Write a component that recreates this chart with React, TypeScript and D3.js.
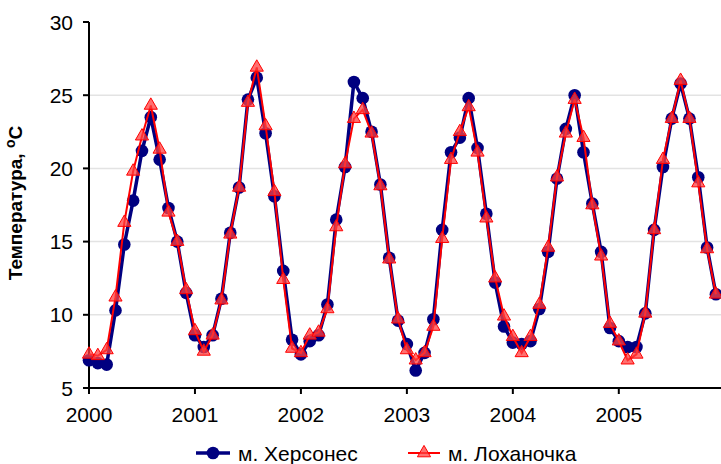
import React from 'react';
import * as d3 from 'd3';

// monthly means, Jan 2000 .. Dec 2005
const years = [2000, 2001, 2002, 2003, 2004, 2005];
const yTicks = [5, 10, 15, 20, 25, 30];

const khersones = [
  6.9, 6.7, 6.6, 10.3, 14.8, 17.8, 21.2, 23.5, 20.6, 17.3, 15.0, 11.5,
  8.6, 7.8, 8.6, 11.1, 15.6, 18.7, 24.7, 26.2, 22.4, 18.1, 13.0, 8.3,
  7.3, 8.2, 8.6, 10.7, 16.5, 20.1, 25.9, 24.8, 22.5, 18.9, 13.9, 9.6,
  8.0, 6.2, 7.4, 9.7, 15.8, 21.1, 22.1, 24.8, 21.4, 16.9, 12.2, 9.2,
  8.1, 8.0, 8.2, 10.4, 14.3, 19.3, 22.7, 25.0, 21.1, 17.6, 14.3, 9.1,
  8.2, 7.8, 7.8, 10.1, 15.8, 20.1, 23.4, 25.8, 23.4, 19.4, 14.6, 11.4,
];

const lokhanochka = [
  7.3, 7.2, 7.6, 11.2, 16.3, 19.8, 22.2, 24.3, 21.3, 17.0, 15.0, 11.7,
  8.9, 7.5, 8.6, 11.0, 15.5, 18.7, 24.5, 26.9, 22.9, 18.4, 12.4, 7.7,
  7.4, 8.6, 8.8, 10.4, 16.0, 20.3, 23.4, 24.0, 22.4, 18.8, 13.8, 9.7,
  7.6, 6.9, 7.4, 9.2, 15.2, 20.6, 22.5, 24.2, 21.1, 16.6, 12.5, 9.9,
  8.5, 7.4, 8.5, 10.7, 14.6, 19.4, 22.4, 24.7, 22.1, 17.5, 14.0, 9.4,
  8.2, 6.9, 7.3, 10.1, 15.8, 20.6, 23.4, 26.0, 23.4, 19.0, 14.5, 11.4,
];

const W = 721;
const H = 464;
const left = 89;
const top = 22;
const bottom = 388;
const font = 'Liberation Sans, Arial, sans-serif';
const fs = 21;

const BLUE = '#000080';
const RED = '#ff0000';

export default function App() {
  const x = d3.scaleLinear().domain([0, 72]).range([left, left + 72 * 8.83]);
  const y = d3.scaleLinear().domain([5, 30]).range([bottom, top]);

  const line = d3
    .line<number>()
    .x((d, i) => x(i))
    .y((d) => y(d));

  const tri = d3.symbol().type(d3.symbolTriangle).size(75)() as string;

  return (
    <div style={{ position: 'absolute', left: 0, top: 0 }}>
      <svg width={W} height={H} style={{ display: 'block', fontFamily: font }}>
        <rect width={W} height={H} fill="#fff" />

        {/* grid */}
        {yTicks.slice(1, -1).map((t) => (
          <line key={'g' + t} x1={left} x2={W} y1={y(t)} y2={y(t)} stroke="#e3e3e3" strokeWidth={1.5} />
        ))}

        {/* y axis */}
        <line x1={left} x2={left} y1={top} y2={bottom} stroke="#000" strokeWidth={2} />
        {yTicks.map((t) => (
          <g key={'y' + t}>
            <line x1={left - 6} x2={left} y1={y(t)} y2={y(t)} stroke="#000" strokeWidth={2} />
            <text x={left - 16} y={y(t)} dy="0.36em" textAnchor="end" fontSize={fs} fill="#000">
              {t}
            </text>
          </g>
        ))}

        {/* x axis */}
        <line x1={left} x2={W} y1={bottom} y2={bottom} stroke="#000" strokeWidth={2} />
        {years.map((yr, k) => (
          <g key={'x' + yr}>
            <line x1={x(k * 12)} x2={x(k * 12)} y1={bottom} y2={bottom + 6} stroke="#000" strokeWidth={2} />
            <text x={x(k * 12)} y={bottom + 34} textAnchor="middle" fontSize={fs} fill="#000">
              {yr}
            </text>
          </g>
        ))}

        <text
          transform={`translate(22,${203}) rotate(-90)`}
          textAnchor="middle"
          fontSize={19}
          fontWeight="bold"
          fill="#000"
        >
          Температура, <tspan dy="-7" fontSize={14}>o</tspan>
          <tspan dy="7">C</tspan>
        </text>

        {/* Херсонес */}
        <path d={line(khersones) as string} fill="none" stroke={BLUE} strokeWidth={3.5} />
        {khersones.map((v, i) => (
          <circle key={'b' + i} cx={x(i)} cy={y(v)} r={6.3} fill={BLUE} />
        ))}

        {/* Лоханочка */}
        <path d={line(lokhanochka) as string} fill="none" stroke={RED} strokeWidth={2} />
        {lokhanochka.map((v, i) => (
          <path
            key={'r' + i}
            d={tri}
            transform={`translate(${x(i)},${y(v)})`}
            fill="#ff4040"
            fillOpacity={0.75}
            stroke={RED}
            strokeWidth={1}
          />
        ))}

        {/* legend */}
        <g transform="translate(0,453)">
          <line x1={196} x2={230} y1={0} y2={0} stroke={BLUE} strokeWidth={3.5} />
          <circle cx={213} cy={0} r={6.3} fill={BLUE} />
          <text x={238} y={0} dy="0.36em" fontSize={fs} fill="#000">
            м. Херсонес
          </text>
          <line x1={408} x2={440} y1={0} y2={0} stroke={RED} strokeWidth={2} />
          <path d={tri} transform="translate(424,0)" fill="#ff4040" fillOpacity={0.75} stroke={RED} strokeWidth={1} />
          <text x={448} y={0} dy="0.36em" fontSize={fs} fill="#000">
            м. Лоханочка
          </text>
        </g>
      </svg>
    </div>
  );
}
